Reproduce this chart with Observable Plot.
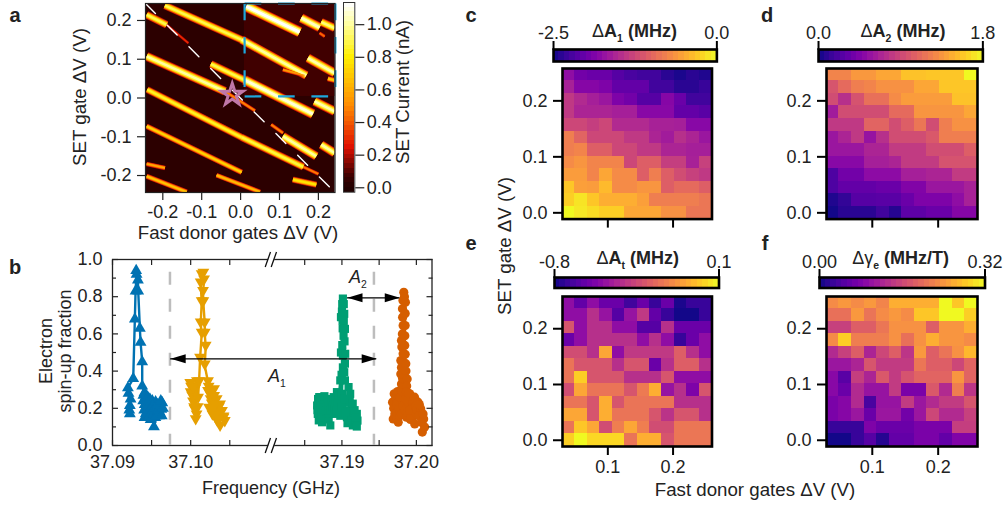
<!DOCTYPE html>
<html><head><meta charset="utf-8">
<script src="https://cdn.jsdelivr.net/npm/d3@7"></script>
<script src="https://cdn.jsdelivr.net/npm/@observablehq/plot@0.6"></script>
<style>
html,body{margin:0;padding:0;background:#fff}
#root{position:relative;width:1006px;height:508px;overflow:hidden;font-family:"Liberation Sans",Arial,sans-serif;color:#222}
.t{position:absolute;white-space:nowrap;line-height:1;transform:translate(-50%,-50%)}
.t sub{font-size:58%;vertical-align:-0.45em;line-height:0}
.t span.n{font-weight:400}
</style></head><body><div id="root"></div>
<script>
// ---------- panel a : SET current stripes (V, V, nA) ----------
const bandX1=[-.1945,.0026,.0146,.156,.2074,.2031,.1731,.2245,.1088,-.0763,.0103,.1902,-.2416,-.0403,.0788,.1088,.2074,-.24,.0026,.1611,-.2416,-.2416,-.2416,-.0617,.1345,-.2416,-.1902];
const bandY1=[.2388,.1503,.2363,.2062,.1959,.1675,.1031,.0498,.073,.0876,.0464,-.0086,.1074,.0172,-.0687,-.0988,-.1203,.0215,-.1014,-.1778,-.073,-.1701,-.2019,-.1993,-.2105,.2148,.189];
const bandX2=[.0026,.1688,.1517,.2031,.2416,.2159,.2416,.2459,.1646,.0103,.1859,.2416,-.0403,.0368,.1088,.1945,.2416,.0026,.1611,.1997,.0026,-.1945,-.1388,.0497,.1945,-.1902,-.1345];
const bandY2=[.1503,.0584,.1701,.1821,.1804,.1589,.0644,.0447,.0584,.0464,-.0412,-.0344,.0172,-.0326,-.0902,-.1503,-.1418,-.1014,-.1778,-.1959,-.1916,-.1804,-.2423,-.2423,-.2234,.189,.1418];
const bandCurrent=[.9,1.0,1.13,1.05,.95,.45,1.02,.7,.55,.9,1.08,1.02,1.0,.5,.5,1.0,1.0,.85,.88,.48,.72,.6,.68,.65,.78,.9,.32];
const backgroundLower=0.03, backgroundUpper=0.07;
const starX=[-0.0215], starY=[0.0085];
const currentTicks=[0,.2,.4,.6,.8,1.0];
const gateTicksA=[-.2,-.1,0,.1,.2];

// ---------- panel b : spectra (GHz, fraction) ----------
const blueF=[37.09215,37.09205,37.09222,37.09222,37.09231,37.09197,37.09265,37.09286,37.09295,37.09308,37.09303,37.09325,37.09329,37.0935,37.09359,37.0938,37.0938,37.0941,37.09393,37.09427,37.0941,37.09444,37.09466,37.09487,37.09509,37.09479,37.0953,37.09551,37.0953,37.09573,37.09607,37.09594,37.09637,37.09624,37.09395,37.09412,37.09405,37.09432,37.09425,37.0945,37.09441,37.09462,37.09458,37.09478,37.09472,37.09495,37.09488,37.09515,37.09505,37.09525,37.0954,37.09548,37.09565,37.0956,37.09585,37.09578,37.09602,37.09618,37.09645,37.0963];
const blueP=[.19,.28,.17,.215,.25,.31,.36,.68,.83,.92,.94,.89,.83,.63,.555,.45,.32,.285,.24,.26,.15,.235,.195,.225,.24,.16,.195,.235,.10,.17,.215,.16,.23,.195,.27,.22,.19,.21,.17,.26,.18,.21,.15,.25,.19,.2,.14,.21,.18,.17,.2,.15,.2,.16,.19,.22,.18,.24,.2,.16];
const yellowF=[37.10005,37.10015,37.1003,37.1005,37.10075,37.1009,37.1,37.09995,37.1006,37.1008,37.10064,37.10043,37.10021,37.1,37.10034,37.10094,37.10107,37.1012,37.10141,37.10128,37.10141,37.10128,37.10141,37.10162,37.10171,37.10158,37.10162,37.1018,37.1018,37.10192,37.1018,37.10222,37.10299,37.10222,37.10256,37.10333,37.10235,37.10321,37.10376,37.10278,37.10363,37.10419,37.10342,37.10376,37.10436,37.1023,37.1025,37.1027,37.103,37.1032,37.1034,37.1036,37.1038,37.104,37.1042,37.1028,37.1031,37.1035];
const yellowP=[.31,.27,.23,.19,.16,.2,.28,.33,.3,.34,.135,.2,.26,.33,.305,.25,.34,.466,.6,.655,.77,.87,.914,.923,.887,.824,.77,.655,.6,.53,.43,.34,.296,.287,.242,.242,.197,.197,.215,.16,.16,.143,.125,.1,.125,.31,.27,.22,.26,.21,.18,.2,.17,.18,.15,.19,.15,.13];
const greenF=[37.18667,37.1868,37.18672,37.18689,37.18676,37.18695,37.18711,37.18733,37.18722,37.18715,37.18745,37.18756,37.18747,37.18765,37.18778,37.188,37.18788,37.18795,37.1881,37.18822,37.18815,37.18833,37.18844,37.1885,37.18867,37.18889,37.18875,37.1889,37.18902,37.18915,37.18933,37.18925,37.18945,37.1896,37.18978,
37.19,37.19013,37.18995,37.19013,37.18987,37.19005,37.19022,37.1901,37.19009,37.18987,37.19,37.19004,37.19013,
37.19025,37.19031,37.19025,37.1904,37.19035,37.19044,37.1904,37.19031,37.1904,37.19089,
37.19067,37.19111,37.19,37.18978,37.19067,37.1908,37.19133,37.19105,37.19156,37.19125,37.192,37.19147,37.19209,37.192,37.1917,37.19145,37.1919,37.19075,37.1905,37.1903];
const greenP=[.215,.25,.19,.135,.17,.26,.26,.125,.165,.22,.25,.197,.15,.265,.17,.224,.19,.14,.25,.143,.21,.17,.108,.19,.233,.17,.21,.26,.197,.24,.287,.19,.23,.27,.35,
.278,.42,.38,.484,.5,.54,.59,.63,.672,.69,.72,.76,.79,
.76,.708,.67,.627,.56,.493,.44,.394,.35,.314,
.233,.278,.21,.16,.152,.19,.197,.24,.152,.135,.17,.108,.134,.102,.19,.225,.15,.12,.18,.25];
const orangeF=[37.1968,37.19689,37.19695,37.19702,37.1971,37.19725,37.19733,37.19745,37.19756,37.19735,37.19748,37.19765,37.19778,37.19756,37.19775,37.198,37.19785,37.19795,37.19822,37.1981,37.198,37.19815,37.19791,37.198,
37.19791,37.19822,37.19805,37.198,37.19812,37.19822,37.19815,37.19813,37.1982,37.19831,
37.1984,37.19853,37.1985,37.19849,37.19845,37.19844,37.1985,37.19858,37.1986,37.19876,37.1987,37.19867,
37.19889,37.19911,37.19867,37.19845,37.1986,37.1988,37.19956,37.1994,37.19933,37.1992,37.1991,37.19895,37.19975,37.20022,37.2,37.1999,37.19978,37.20005,37.20058,37.20035,37.2004,37.20098,37.20067,37.2008,37.20111,37.2009];
const orangeP=[.233,.143,.2,.278,.17,.26,.179,.145,.125,.225,.29,.2,.287,.233,.16,.17,.26,.3,.215,.29,.33,.36,.385,.42,
.457,.493,.53,.565,.6,.645,.69,.735,.78,.824,
.8,.77,.71,.645,.59,.538,.49,.44,.4,.358,.32,.287,
.233,.278,.152,.19,.25,.18,.233,.2,.161,.14,.19,.28,.26,.233,.17,.21,.116,.19,.197,.16,.22,.143,.125,.072,.099,.17];
const freqMajor=[37.09,37.10,37.19,37.20], freqMinor=[37.095,37.105,37.185,37.195];
const fractionMajor=[0,.2,.4,.6,.8,1], fractionMinor=[.1,.3,.5,.7,.9];
const A1Arrow=[37.09744,37.19467], A1Level=.466;
const A2Arrow=[37.19075,37.19777], A2Level=.794;
const guideLines=[37.09735,37.1943];
const breakFreq=37.1103;

// ---------- panels c-f : 12 x 12 maps, rows from top, colour position 0..1 along the bar ----------
const sweepX=[.04,.0591,.0782,.0973,.1164,.1355,.1546,.1737,.1928,.2119,.231,.2501];
const sweepY=[.2466,.2242,.2018,.1794,.1569,.1345,.1121,.0897,.0673,.0448,.0224,0];
const A1Map=[
.3,.22,.2,.2,.15,.12,.1,.1,.05,.02,.05,.03,
.37,.27,.27,.25,.18,.18,.18,.1,.1,.05,.05,.08,
.45,.4,.36,.33,.25,.22,.15,.15,.27,.2,.1,.1,
.45,.38,.38,.38,.36,.36,.28,.28,.28,.18,.18,.16,
.5,.5,.47,.5,.4,.4,.4,.37,.37,.36,.28,.28,
.68,.6,.5,.5,.5,.45,.45,.38,.35,.42,.38,.33,
.68,.7,.58,.58,.5,.5,.45,.45,.38,.38,.36,.36,
.72,.75,.7,.7,.7,.5,.58,.58,.47,.47,.37,.48,
.77,.77,.7,.8,.72,.72,.58,.68,.58,.52,.48,.45,
.88,.78,.77,.85,.72,.72,.75,.75,.58,.62,.62,.58,
.9,.95,.88,.82,.82,.82,.78,.68,.68,.68,.68,.66,
1,.96,.93,.9,.9,.8,.8,.8,.74,.74,.66,.66];
const A2Map=[
.7,.7,.76,.76,.8,.8,.87,.87,.88,.88,.88,1,
.55,.62,.68,.7,.74,.74,.74,.8,.8,.88,.88,.88,
.52,.42,.54,.64,.64,.72,.77,.77,.77,.77,.87,.87,
.35,.52,.52,.52,.52,.62,.62,.75,.75,.75,.75,.8,
.45,.45,.45,.6,.6,.52,.58,.66,.52,.68,.74,.74,
.33,.38,.45,.32,.42,.52,.52,.52,.56,.68,.68,.68,
.33,.33,.33,.38,.38,.46,.46,.46,.52,.52,.52,.58,
.28,.28,.28,.36,.36,.38,.46,.46,.46,.54,.54,.54,
.13,.22,.22,.29,.29,.29,.36,.36,.38,.38,.46,.46,
.13,.18,.18,.18,.2,.2,.26,.26,.33,.33,.33,.37,
.03,.07,.15,.15,.16,.16,.2,.25,.25,.25,.3,.37,
.01,.05,.05,.05,.1,.04,.17,.17,.2,.2,.27,.27];
const AtMap=[
.3,.18,.3,.2,.2,.1,.2,.08,.2,.02,.08,.08,
.3,.3,.42,.32,.15,.32,.45,.18,.08,.01,.01,.08,
.55,.3,.42,.42,.3,.3,.15,.15,.42,.2,.2,.2,
.2,.3,.42,.42,.42,.42,.3,.42,.3,.08,.2,.3,
.52,.52,.42,.8,.3,.45,.45,.45,.45,.58,.42,.3,
.65,.55,.55,.55,.42,.55,.55,.2,.42,.58,.58,.42,
.65,.9,.55,.55,.55,.42,.42,.42,.55,.3,.3,.3,
.52,.8,.65,.65,.65,.55,.67,.82,.32,.42,.25,.55,
.65,.65,.55,.82,.55,.65,.65,.65,.65,.42,.42,.42,
.8,.8,.55,.82,.65,.65,.65,.55,.43,.55,.55,.42,
.65,.88,.8,.52,.68,.8,.68,.52,.52,.66,.66,.66,
.9,1,.92,.92,.92,.65,.82,.82,.55,.66,.66,.66];
const gammaMap=[
.72,.76,.72,.76,.7,.82,.82,.82,.82,1,.88,1,
.64,.64,.76,.65,.72,.76,.72,.88,.88,1,1,.9,
.48,.48,.58,.58,.66,.74,.74,.74,.58,.75,.75,.82,
.72,.9,.68,.68,.68,.74,.64,.74,.82,.75,.75,.72,
.4,.48,.58,.38,.5,.58,.44,.76,.58,.65,.74,.84,
.33,.33,.38,.55,.46,.46,.46,.66,.58,.58,.5,.6,
.28,.16,.47,.38,.56,.46,.54,.6,.6,.6,.75,.6,
.28,.2,.4,.32,.32,.46,.24,.24,.56,.4,.68,.44,
.24,.27,.4,.12,.32,.32,.46,.33,.4,.46,.46,.55,
.24,.27,.33,.2,.33,.33,.22,.33,.5,.4,.4,.48,
.08,.08,.08,.25,.2,.2,.2,.24,.24,.24,.47,.47,
.01,.01,.08,.15,.04,.18,.18,.24,.24,.18,.26,.26];
const mapTicksX=[.1,.2], mapTicksY=[0,.1,.2];

// ---------- helpers ----------
const root=document.getElementById("root");
const FONT='"Liberation Sans",Arial,sans-serif';
const baseStyle={background:"none",overflow:"visible",fontFamily:FONT,fontSize:"18px",color:"#222"};
function mount(p,l,t){p.style.position="absolute";p.style.left=l+"px";p.style.top=t+"px";root.append(p);}
function txt(html,x,y,o={}){const d=document.createElement("div");d.className="t";d.innerHTML=html;d.style.left=x+"px";d.style.top=y+"px";d.style.fontSize=(o.size||18)+"px";if(o.bold)d.style.fontWeight="700";if(o.rot)d.style.transform="translate(-50%,-50%) rotate(-90deg)";root.append(d);}
const hot={type:"linear",domain:[-.03,.03,.08,.25,.5,.8,1.0,1.13],range:["#1c0000","#2c0000","#450000","#e01000","#ff8a00","#ffee00","#ffffa0","#ffffff"],clamp:true};

// ---------- panel a ----------
(function(){
 const L=144.5,R=334,T=2.5,B=191.5,ml=60,mr=10,mt=3,mb=40;
 const bands=bandX1.map((x,i)=>({x1:x,y1:bandY1[i],x2:bandX2[i],y2:bandY2[i],v:bandCurrent[i]}));
 const layer=(k,wk)=>Plot.link(bands,{x1:"x1",y1:"y1",x2:"x2",y2:"y2",stroke:d=>d.v*k,strokeWidth:d=>wk*(1.6+4.5*d.v*d.v),clip:"frame",imageFilter:"blur(0.6px)"});
 const xd=[-.2445,.2427],yd=[-.2438,.2438];
 mount(Plot.plot({width:R-L+ml+mr,height:B-T+mt+mb,marginLeft:ml,marginRight:mr,marginTop:mt,marginBottom:mb,style:baseStyle,
  x:{domain:xd},y:{domain:yd},color:hot,
  marks:[
   Plot.rect([backgroundLower],{x1:xd[0],x2:xd[1],y1:yd[0],y2:yd[1],fill:d=>d}),
   Plot.rect([backgroundUpper],{x1:.01,x2:xd[1],y1:.004,y2:yd[1],fill:d=>d}),
   layer(.22,1.45),layer(.42,1.25),layer(.65,1.0),layer(.85,.75),layer(1,.42),
   Plot.line([[xd[0],yd[1]],[xd[1],yd[0]]],{x:d=>d[0],y:d=>d[1],stroke:"#fff",strokeWidth:1.4,strokeDasharray:"14 16.7",strokeDashoffset:0}),
   Plot.link([[.0103,yd[1],.0103,.004],[.0103,.004,xd[1],.004],[.0103,yd[1],xd[1],yd[1]],[xd[1]+.001,yd[1],xd[1]+.001,.004]],{x1:d=>d[0],y1:d=>d[1],x2:d=>d[2],y2:d=>d[3],stroke:"#1ea7dc",strokeWidth:2.2,strokeDasharray:"16.7 16.7"}),
   Plot.dot(starX,{x:d=>d,y:()=>starY[0],symbol:"star",r:6.8,stroke:"#c077a8",strokeWidth:3,fill:"none"}),
   Plot.frame({stroke:"#222",strokeWidth:1.2}),
   Plot.axisX({ticks:gateTicksA,tickSize:8,tickPadding:5,tickFormat:d=>d.toFixed(1),label:null,stroke:"#222",strokeWidth:1.2}),
   Plot.axisY({ticks:gateTicksA,tickSize:8,tickPadding:6,tickFormat:d=>d.toFixed(1),label:null,stroke:"#222",strokeWidth:1.2})
  ]}),L-ml,T-mt);
 // colour bar
 const cL=342.7,cR=354,cT=2.3,cB=192,m2=4;
 const dom=[-.027,1.136],n=40,st=(dom[1]-dom[0])/n;
 const steps=d3.range(n).map(i=>dom[0]+i*st);
 mount(Plot.plot({width:cR-cL+60,height:cB-cT+2*m2,marginLeft:m2,marginRight:60-m2,marginTop:m2,marginBottom:m2,style:baseStyle,
  x:{domain:[0,1],axis:null},y:{domain:dom},color:hot,
  marks:[
   Plot.rect(steps,{x1:0,x2:1,y1:d=>d,y2:d=>d+st*1.05,fill:d=>d+st/2,shapeRendering:"crispEdges"}),
   Plot.frame({stroke:"#333",strokeWidth:1}),
   Plot.axisY({anchor:"right",ticks:currentTicks,tickSize:9,tickPadding:3,tickFormat:d=>d.toFixed(1),label:null,stroke:"#222",strokeWidth:1.2})
  ]}),cL-m2,cT-m2);
})();

// ---------- panel b ----------
(function(){
 const L=112,R=431.5,T=259,B=445,ml=112,mr=14,mt=4,mb=30;
 const triDown={draw(c,s){const a=Math.sqrt(s/(Math.sqrt(3)/4)),h=a*Math.sqrt(3)/2;c.moveTo(-a/2,-h/2);c.lineTo(a/2,-h/2);c.lineTo(0,h/2);c.closePath();}};
 const arrowL={draw(c){c.moveTo(0,0);c.lineTo(15,-4.5);c.lineTo(15,4.5);c.closePath();}};
 const arrowR={draw(c){c.moveTo(0,0);c.lineTo(-15,-4.5);c.lineTo(-15,4.5);c.closePath();}};
 const gapSym={draw(c){c.moveTo(-5.5,7.5);c.lineTo(-.5,-7.5);c.lineTo(5.5,-7.5);c.lineTo(.5,7.5);c.closePath();}};
 const slashSym={draw(c){c.moveTo(-6,7.5);c.lineTo(-.7,-7.5);c.moveTo(0,7.5);c.lineTo(5.3,-7.5);}};
 const series=(F,P,col,sym,r)=>{const d=F.map((f,i)=>({f,p:P[i]}));return [
   Plot.line(d,{x:"f",y:"p",stroke:col,strokeWidth:2.4}),
   Plot.dot(d,{x:"f",y:"p",fill:col,symbol:sym,r})];};
 const emptyLabel=()=>"";
 mount(Plot.plot({width:R+mr,height:B-T+mt+mb,marginLeft:ml,marginRight:mr,marginTop:mt,marginBottom:mb,style:baseStyle,
  x:{type:"linear",domain:[37.09,breakFreq,37.1805,37.2021],range:[L,270.7,270.7,R]},y:{domain:[0,1]},
  marks:[
   Plot.frame({stroke:"#222",strokeWidth:1.3}),
   Plot.ruleX(guideLines,{y1:1,y2:0,stroke:"#bdbdbd",strokeWidth:2.5,strokeDasharray:"13 14",strokeDashoffset:14.3}),
   ...series(blueF,blueP,"#0072B2","triangle",4.4),
   ...series(yellowF,yellowP,"#E69F00",triDown,4.4),
   ...series(greenF,greenP,"#009E73","square",4.6),
   ...series(orangeF,orangeP,"#D55E00","circle",4.6),
   Plot.ruleY([A1Level],{x1:A1Arrow[0],x2:A1Arrow[1],stroke:"#000",strokeWidth:1.3}),
   Plot.ruleY([A2Level],{x1:A2Arrow[0],x2:A2Arrow[1],stroke:"#000",strokeWidth:1.3}),
   Plot.dot([[A1Arrow[0],A1Level],[A2Arrow[0],A2Level]],{x:d=>d[0],y:d=>d[1],symbol:arrowL,fill:"#000",r:3}),
   Plot.dot([[A1Arrow[1],A1Level],[A2Arrow[1],A2Level]],{x:d=>d[0],y:d=>d[1],symbol:arrowR,fill:"#000",r:3}),
   Plot.axisX({anchor:"bottom",ticks:freqMajor,tickSize:0,tickPadding:10,tickFormat:d=>d.toFixed(2),label:null}),
   Plot.axisY({anchor:"left",ticks:fractionMajor,tickSize:0,tickPadding:10,tickFormat:d=>d.toFixed(1),label:null}),
   ...["bottom","top"].flatMap(a=>[
     Plot.axisX({anchor:a,ticks:freqMajor,tickSize:-5,tickFormat:emptyLabel,label:null,stroke:"#222",strokeWidth:1.2}),
     Plot.axisX({anchor:a,ticks:freqMinor,tickSize:-5,tickFormat:emptyLabel,label:null,stroke:"#222",strokeWidth:1.2})]),
   ...["left","right"].flatMap(a=>[
     Plot.axisY({anchor:a,ticks:fractionMajor,tickSize:-6,tickFormat:emptyLabel,label:null,stroke:"#222",strokeWidth:1.2}),
     Plot.axisY({anchor:a,ticks:fractionMinor,tickSize:-4,tickFormat:emptyLabel,label:null,stroke:"#222",strokeWidth:1.2})]),
   Plot.dot([0,1],{x:()=>breakFreq,y:d=>d,symbol:gapSym,fill:"#fff",r:3}),
   Plot.dot([0,1],{x:()=>breakFreq,y:d=>d,symbol:slashSym,fill:"none",stroke:"#111",strokeWidth:1.3,r:3})
  ]}),0,T-mt);
})();

// ---------- panels c-f ----------
function heatPanel(map,lo,hi,dec,fL,fR,fT,fB,cL,cR,cT,cB,showLabels){
 const ml=56,mr=12,mt=6,mb=42;
 const rows=map.map((t,i)=>({x:sweepX[i%12],y:sweepY[Math.floor(i/12)],v:lo+t*(hi-lo)}));
 const hx=.0098,hy=.0115;
 const color={scheme:"plasma",domain:[lo,hi]};
 mount(Plot.plot({width:fR-fL+ml+mr,height:fB-fT+mt+mb,marginLeft:ml,marginRight:mr,marginTop:mt,marginBottom:mb,style:baseStyle,
  x:{domain:[.0305,.2597]},y:{domain:[-.0112,.2578]},color,
  marks:[
   Plot.rect(rows,{x1:d=>Math.max(d.x-hx,.0305),x2:d=>Math.min(d.x+hx,.2597),y1:d=>Math.max(d.y-hy,-.0112),y2:d=>Math.min(d.y+hy,.2578),fill:"v",shapeRendering:"crispEdges"}),
   Plot.frame({stroke:"#000",strokeWidth:2.6}),
   Plot.axisX({ticks:mapTicksX,tickSize:9,tickPadding:5,tickFormat:showLabels?(d=>d.toFixed(1)):(()=>""),label:null,stroke:"#000",strokeWidth:2}),
   Plot.axisY({ticks:mapTicksY,tickSize:9,tickPadding:6,tickFormat:d=>d.toFixed(1),label:null,stroke:"#000",strokeWidth:2})
  ]}),fL-ml,fT-mt);
 const m={l:30,r:30,t:26,b:4},n=30,st=(hi-lo)/n;
 const steps=d3.range(n).map(i=>lo+i*st);
 mount(Plot.plot({width:cR-cL+m.l+m.r,height:cB-cT+m.t+m.b,marginLeft:m.l,marginRight:m.r,marginTop:m.t,marginBottom:m.b,style:baseStyle,
  x:{domain:[lo,hi]},y:{domain:[0,1],axis:null},color,
  marks:[
   Plot.rect(steps,{x1:d=>d,x2:d=>d+st*1.02,y1:0,y2:1,fill:d=>d+st/2,shapeRendering:"crispEdges"}),
   Plot.frame({stroke:"#000",strokeWidth:2.6}),
   Plot.axisX({anchor:"top",ticks:[lo,hi],tickSize:9,tickPadding:1,tickFormat:d=>d.toFixed(dec),label:null,stroke:"#000",strokeWidth:2})
  ]}),cL-m.l,cT-m.t);
}
heatPanel(A1Map,-2.5,0,1, 561.5,711,68,218.6, 553.3,716.7,48.5,60.5,false);
heatPanel(A2Map,0,1.8,1, 825.5,976.5,68,218.6, 818.3,982.7,48.5,60.5,false);
heatPanel(AtMap,-.8,.1,1, 561.5,711,295.5,445.5, 553.5,718,277,287.5,true);
heatPanel(gammaMap,0,.32,2, 825.5,976.5,295.5,445.5, 818.5,984,277,287.5,true);

// ---------- text ----------
txt("a",15,15,{size:20,bold:true});
txt("b",15,267,{size:20,bold:true});
txt("c",471,15,{size:20,bold:true});
txt("d",767,15,{size:20,bold:true});
txt("e",471,243,{size:20,bold:true});
txt("f",765,243,{size:20,bold:true});
txt("SET gate ΔV (V)",80,97,{rot:true,size:18.7});
txt("Fast donor gates ΔV (V)",238,233,{size:18.7});
txt("SET Current (nA)",403,92,{rot:true,size:18.7});
txt("Electron",46,351,{rot:true});
txt("spin-up fraction",65,351,{rot:true});
txt("Frequency (GHz)",271,488);
txt("SET gate ΔV (V)",505,246,{rot:true,size:18.7});
txt("Fast donor gates ΔV (V)",755,490,{size:18.7});
const dl='<span class="n">Δ</span>';
txt(dl+"A<sub>1</sub> (MHz)",634.5,31,{bold:true});
txt(dl+"A<sub>2</sub> (MHz)",903,31,{bold:true});
txt(dl+"A<sub>t</sub> (MHz)",637.7,258,{bold:true});
txt('<span class="n">Δγ</span><sub>e</sub> (MHz/T)',900.7,258,{bold:true});
txt("<i>A</i><sub>1</sub>",277,376);
txt("<i>A</i><sub>2</sub>",358,277);
</script></body></html>
